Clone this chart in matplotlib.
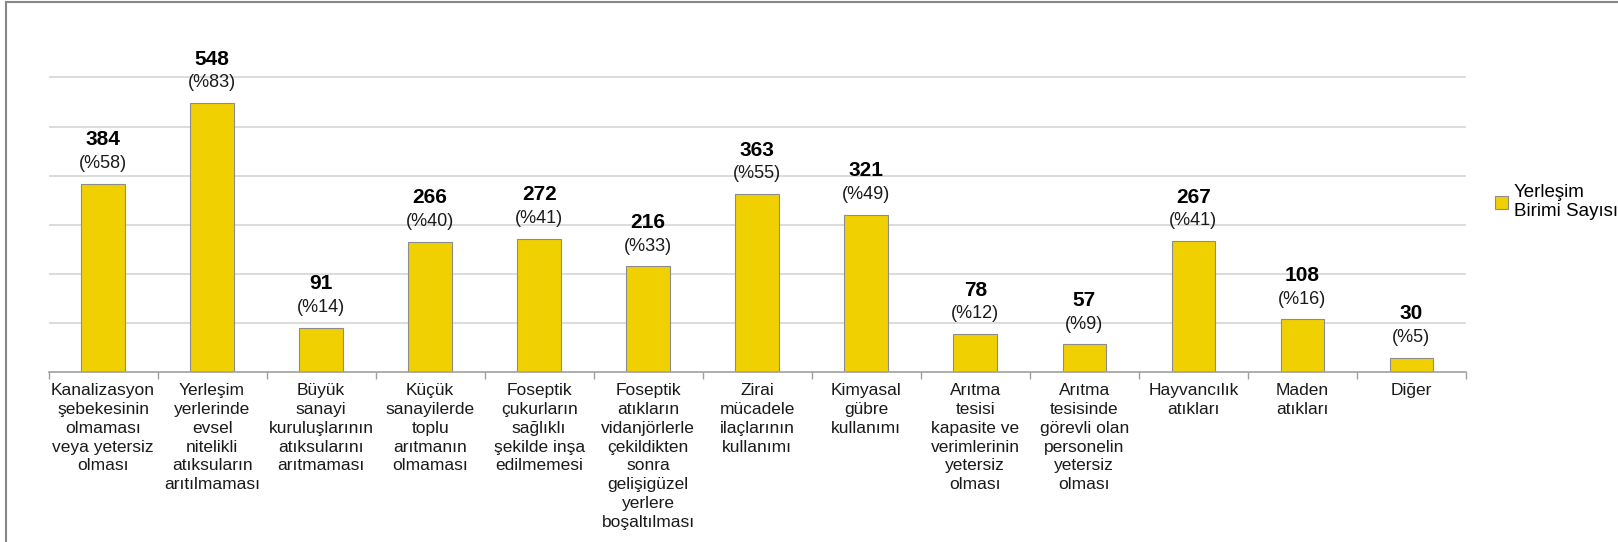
import matplotlib.pyplot as plt
from matplotlib.lines import Line2D
import numpy as np

plt.rcParams['font.family'] = ['Liberation Sans', 'DejaVu Sans']

# causes of pollution and number of settlements reporting each
categories = [
    "Kanalizasyon\nşebekesinin\nolmaması\nveya yetersiz\nolması",
    "Yerleşim\nyerlerinde\nevsel\nnitelikli\natıksuların\narıtılmaması",
    "Büyük\nsanayi\nkuruluşlarının\natıksularını\narıtmaması",
    "Küçük\nsanayilerde\ntoplu\narıtmanın\nolmaması",
    "Foseptik\nçukurların\nsağlıklı\nşekilde inşa\nedilmemesi",
    "Foseptik\natıkların\nvidanjörlerle\nçekildikten\nsonra\ngelişigüzel\nyerlere\nboşaltılması",
    "Zirai\nmücadele\nilaçlarının\nkullanımı",
    "Kimyasal\ngübre\nkullanımı",
    "Arıtma\ntesisi\nkapasite ve\nverimlerinin\nyetersiz\nolması",
    "Arıtma\ntesisinde\ngörevli olan\npersonelin\nyetersiz\nolması",
    "Hayvancılık\natıkları",
    "Maden\natıkları",
    "Diğer",
]
counts = [384, 548, 91, 266, 272, 216, 363, 321, 78, 57, 267, 108, 30]
percents = [58, 83, 14, 40, 41, 33, 55, 49, 12, 9, 41, 16, 5]
series_name = "Yerleşim\nBirimi Sayısı"

fig = plt.figure(figsize=(16.18, 5.42), dpi=100)
ax = fig.add_axes([0.030, 0.313, 0.876, 0.635])

x = np.arange(len(categories))
bars = ax.bar(x, counts, width=0.4, color="#F0D000", edgecolor="#8c8c8c",
              linewidth=0.8, label=series_name, zorder=3)

for xi, v, p in zip(x, counts, percents):
    ax.annotate(f"(%{p})", (xi, v), xytext=(0, 14.5), textcoords="offset points",
                ha="center", va="center", fontsize=13, color="#1a1a1a")
    ax.annotate(str(v), (xi, v), xytext=(0, 31.5), textcoords="offset points",
                ha="center", va="center", fontsize=15, fontweight="bold", color="black")

ax.set_xlim(-0.5, len(categories) - 0.5)
ax.set_ylim(0, 700)
ax.set_yticks([100, 200, 300, 400, 500, 600])
ax.yaxis.grid(True, color="#d9d9d9", linewidth=1.3, zorder=0)
ax.tick_params(axis="y", length=0, labelleft=False)

ax.set_xticks(x)
ax.set_xticklabels(categories, fontsize=12.5, linespacing=1.31, color="#1a1a1a")
ax.tick_params(axis="x", which="major", length=0, pad=8)
ax.set_xticks(np.arange(-0.5, len(categories)), minor=True)
ax.tick_params(axis="x", which="minor", length=5, color="#a0a0a0", width=1)

for side in ["top", "right", "left"]:
    ax.spines[side].set_visible(False)
ax.spines["bottom"].set_color("#a0a0a0")
ax.spines["bottom"].set_linewidth(1.2)
ax.spines["bottom"].set_zorder(4)

ax.legend(loc="center left", bbox_to_anchor=(0.924, 0.627), bbox_transform=fig.transFigure,
          frameon=False, fontsize=13.5, handlelength=0.7, handleheight=0.7,
          handletextpad=0.3, borderaxespad=0, borderpad=0)

# outer frame (left and top edge)
fig.add_artist(Line2D([0.004, 0.004], [0, 0.996], transform=fig.transFigure,
                      color="#888888", linewidth=1.5))
fig.add_artist(Line2D([0.004, 1.0], [0.996, 0.996], transform=fig.transFigure,
                      color="#888888", linewidth=1.5))

fig.savefig("out.png", dpi=100)
